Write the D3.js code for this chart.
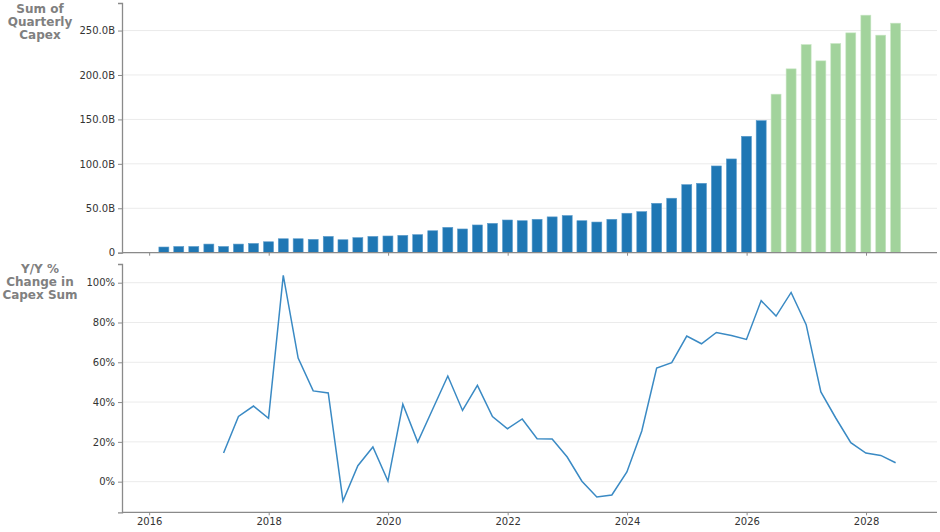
<!DOCTYPE html>
<html>
<head>
<meta charset="utf-8">
<script src="https://cdn.jsdelivr.net/npm/d3@7"></script>
<style>
  body { margin: 0; background: #ffffff; }
  svg { display: block; font-family: 'DejaVu Sans', sans-serif; }
</style>
</head>
<body>
<div id="chart"></div>
<script>
// quarter-end dates, actual capex (blue) then forecast (green)
const quarters = [
  '2016-03-31', '2016-06-30', '2016-09-30', '2016-12-31',
  '2017-03-31', '2017-06-30', '2017-09-30', '2017-12-31',
  '2018-03-31', '2018-06-30', '2018-09-30', '2018-12-31',
  '2019-03-31', '2019-06-30', '2019-09-30', '2019-12-31',
  '2020-03-31', '2020-06-30', '2020-09-30', '2020-12-31',
  '2021-03-31', '2021-06-30', '2021-09-30', '2021-12-31',
  '2022-03-31', '2022-06-30', '2022-09-30', '2022-12-31',
  '2023-03-31', '2023-06-30', '2023-09-30', '2023-12-31',
  '2024-03-31', '2024-06-30', '2024-09-30', '2024-12-31',
  '2025-03-31', '2025-06-30', '2025-09-30', '2025-12-31',
  '2026-03-31', '2026-06-30', '2026-09-30', '2026-12-31',
  '2027-03-31', '2027-06-30', '2027-09-30', '2027-12-31',
  '2028-03-31', '2028-06-30'
];

// billions
const capexActual = [
  6.4, 7.0, 7.0, 9.7, 7.0, 9.7, 10.4, 12.3,
  15.7, 15.7, 15.0, 18.3, 14.6, 16.9, 18.3, 18.8,
  19.5, 20.3, 24.7, 28.5, 26.7, 31.2, 33.0, 36.8,
  36.0, 37.6, 40.3, 41.8, 36.0, 34.5, 37.6, 44.4,
  46.2, 55.6, 61.3, 76.6, 78.1, 97.6, 105.5, 131.0,
  148.6
];
const capexForecast = [178.4, 206.9, 234.2, 215.9, 235.4, 247.4, 267.3, 244.8, 258.3];

// Y/Y % change, starts at the 5th quarter
const yoyStart = 4;
const yoyChange = [
  14.4, 32.8, 38.0, 31.8, 103.7, 62.1, 45.6, 44.6,
  -9.7, 8.0, 17.4, 0.3, 38.9, 19.9, 36.5, 53.1,
  35.8, 48.4, 32.7, 26.6, 31.5, 21.6, 21.4, 12.4,
  0.2, -7.7, -6.7, 4.9, 25.5, 57.1, 59.8, 73.2,
  69.3, 75.0, 73.5, 71.5, 91.0, 83.2, 95.1, 78.9,
  45.1, 32.0, 19.6, 14.4, 13.2, 9.5
];

const topTicks = [0, 50, 100, 150, 200, 250];
const bottomTicks = [0, 20, 40, 60, 80, 100];
const yearTicks = ['2016', '2018', '2020', '2022', '2024', '2026', '2028'];

const W = 940, H = 532;
const parseDate = d3.timeParse('%Y-%m-%d');
const dates = quarters.map(parseDate);

const bars = dates.map((d, i) => ({
  date: d,
  value: i < capexActual.length ? capexActual[i] : capexForecast[i - capexActual.length],
  forecast: i >= capexActual.length
}));
const yoy = yoyChange.map((v, i) => ({ date: dates[yoyStart + i], value: v }));

const svg = d3.select('#chart').append('svg')
  .attr('width', W)
  .attr('height', H);

const x = d3.scaleTime()
  .domain([parseDate('2015-07-19'), parseDate('2029-03-10')])
  .range([122, 937]);

const yTop = d3.scaleLinear().domain([0, 281]).range([252.7, 3]);
const yBot = d3.scaleLinear().domain([-15.4, 109.4]).range([512.3, 264]);

const spineColor = '#8a8a8a';
const gridColor = '#ebebeb';
const tickText = '#333333';

const drawGrid = (scale, ticks) => {
  svg.append('g').selectAll('line')
    .data(ticks)
    .enter()
    .append('line')
    .attr('x1', 122)
    .attr('x2', 937)
    .attr('y1', d => scale(d))
    .attr('y2', d => scale(d))
    .attr('stroke', gridColor)
    .attr('stroke-width', 1);
};

const styleAxis = (g) => {
  g.select('.domain').attr('stroke', spineColor).attr('stroke-width', 1.3);
  g.selectAll('.tick line').attr('stroke', spineColor);
  g.selectAll('.tick text')
    .attr('fill', tickText)
    .style('font-size', '10px')
    .style('font-family', "'DejaVu Sans', sans-serif");
};

const yearDates = yearTicks.map(y => parseDate(y + '-01-01'));

// ---- top panel: quarterly capex bars
drawGrid(yTop, topTicks);

const barW = (x(dates[1]) - x(dates[0])) * 0.67;
svg.append('g').selectAll('rect')
  .data(bars)
  .enter()
  .append('rect')
  .attr('x', d => x(d.date) - barW / 2)
  .attr('y', d => yTop(d.value))
  .attr('width', barW)
  .attr('height', d => yTop(0) - yTop(d.value))
  .attr('fill', d => d.forecast ? '#a2d39c' : '#1f77b4')
  .attr('stroke', d => d.forecast ? '#c8e6c4' : '#5a9bcb')
  .attr('stroke-width', 0.6);

const topY = svg.append('g')
  .attr('transform', 'translate(122,0)')
  .call(d3.axisLeft(yTop)
    .tickValues(topTicks)
    .tickSize(4)
    .tickPadding(3)
    .tickFormat(d => d === 0 ? '0' : d3.format('.1f')(d) + 'B'));
styleAxis(topY);

const topX = svg.append('g')
  .attr('transform', 'translate(0,' + yTop(0) + ')')
  .call(d3.axisBottom(x)
    .tickValues(yearDates)
    .tickSize(3)
    .tickFormat(''));
styleAxis(topX);
topX.select('.domain').attr('d', 'M122,0H937');

// ---- bottom panel: Y/Y % change line
drawGrid(yBot, bottomTicks);

svg.append('path')
  .datum(yoy)
  .attr('fill', 'none')
  .attr('stroke', '#3a8ac4')
  .attr('stroke-width', 1.5)
  .attr('stroke-linejoin', 'miter')
  .attr('d', d3.line()
    .x(d => x(d.date))
    .y(d => yBot(d.value)));

const botY = svg.append('g')
  .attr('transform', 'translate(122,0)')
  .call(d3.axisLeft(yBot)
    .tickValues(bottomTicks)
    .tickSize(4)
    .tickPadding(3)
    .tickFormat(d => d + '%'));
styleAxis(botY);

const botX = svg.append('g')
  .attr('transform', 'translate(0,' + yBot.range()[0] + ')')
  .call(d3.axisBottom(x)
    .tickValues(yearDates)
    .tickSize(3)
    .tickPadding(3)
    .tickFormat(d3.timeFormat('%Y')));
styleAxis(botX);
botX.select('.domain').attr('d', 'M122,0H937');

// ---- panel titles
const addTitle = (lines, top) => {
  const t = svg.append('text')
    .attr('x', 40)
    .attr('y', top)
    .attr('text-anchor', 'middle')
    .style('font-size', '12px')
    .style('font-weight', 'bold')
    .style('fill', '#808080');
  lines.forEach((line, i) => {
    t.append('tspan')
      .attr('x', 40)
      .attr('dy', i === 0 ? 0 : 12.8)
      .text(line);
  });
};
addTitle(['Sum of', 'Quarterly', 'Capex'], 13);
addTitle(['Y/Y %', 'Change in', 'Capex Sum'], 273);
</script>
</body>
</html>
